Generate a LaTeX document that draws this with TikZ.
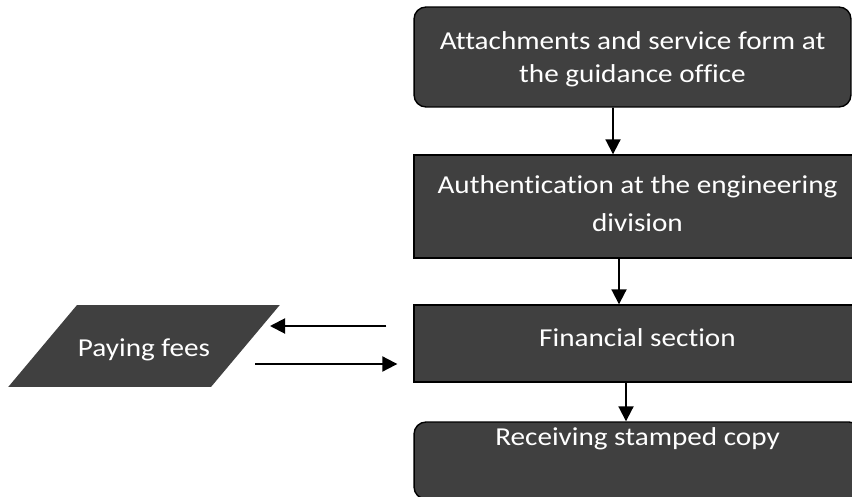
\documentclass[tikz,border=0pt]{standalone}
\usepackage{fontspec}
\setmainfont{Carlito}[Ligatures=CommonOff, FakeStretch=1.13]
\usepackage{xcolor}
\usepackage{tikz}
\usetikzlibrary{shapes.geometric, arrows.meta, positioning, calc}
\definecolor{boxgray}{RGB}{64, 64, 64}

\begin{document}
\begin{tikzpicture}[x=0.02cm, y=-0.02cm,
        stepbox/.style={rectangle, draw=black, line width=0.8pt, fill=boxgray, text=white, minimum width=8.94cm, inner ysep=0pt, align=center, font=\fontsize{14.7}{19}\selectfont},
        flow/.style={line width=1.1pt, -{Triangle[length=0.3cm, width=0.3cm]}}]
        \useasboundingbox (0,0) rectangle (852,497);
        % Attachments box
        \node[stepbox, rounded corners=0.24cm, minimum width=8.74cm, text height=1.514cm, text depth=0.486cm] (attach) at (632.5,57) {Attachments and service form at\\the guidance office};
        % Authentication box
        \node[stepbox, font=\fontsize{14.7}{21.8}\selectfont, text height=1.534cm, text depth=0.526cm] (auth) at (637.5,206.5) {Authentication at the engineering\\division};
        % Financial box
        \node[stepbox, text height=0.834cm, text depth=0.706cm] (fin) at (637.5,343.5) {Financial section};
        % Receiving box
        \node[stepbox, rounded corners=0.24cm, text height=0.46cm, text depth=1.08cm] (recv) at (637.5,460.5) {Receiving stamped copy};
        % Paying fees
        \node[trapezium, trapezium left angle=50, trapezium right angle=130, inner sep=0pt, text height=1.02cm, text depth=0.62cm, fill=boxgray, text=white, font=\fontsize{14.7}{19}\selectfont] (fees) at (144,346) {\makebox[2.68cm]{Paying fees}};

        % Connecting arrows
        \draw[flow] ([xshift=-0.39cm]attach.south) -- ([xshift=-0.49cm]auth.north);
        \draw[flow] ([xshift=-0.37cm]auth.south) -- ([xshift=-0.37cm]fin.north);
        \draw[flow] ([xshift=-0.23cm]fin.south) -- ([xshift=-0.23cm]recv.north);
        \draw[flow] ($(fin.west)+(-27,-17.5)$) -- ($(fees.center)+(126,-20)$);
        \draw[flow] ($(fees.center)+(111,18)$) -- ($(fin.west)+(-16,20.5)$);
    \end{tikzpicture}
\end{document}
